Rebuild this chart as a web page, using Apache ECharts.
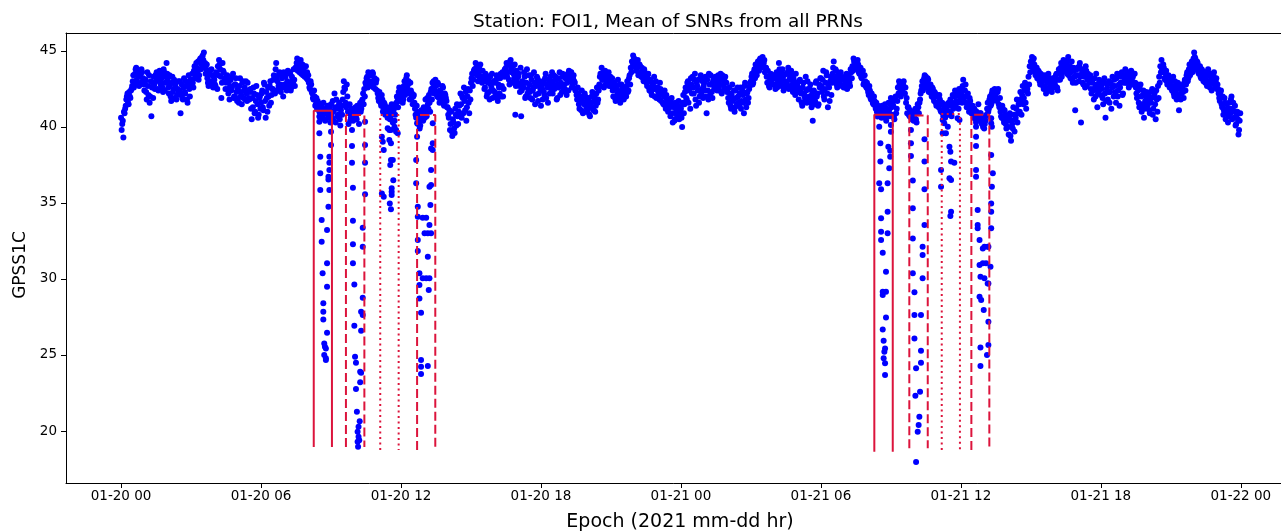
<!DOCTYPE html>
<html><head><meta charset="utf-8">
<script src="https://cdn.jsdelivr.net/npm/echarts@6/dist/echarts.min.js"></script>
<style>html,body{margin:0;padding:0;background:#fff}#c{width:1281px;height:532px}</style>
</head><body><div id="c"></div><script>
// epoch spacing within each block, hours; second phase is offset by half a step
const EPOCH_STEP_H = 0.05;
const PHASE_B_OFFSET_H = 0.025;
// mean SNR, 6-hour blocks, phase A epochs
const snr_00_06 = [
40.6,40.2,39.3,40.9,41.4,42.0,41.6,42.3,41.9,42.5,
43.0,42.6,43.5,43.9,42.8,43.3,43.7,42.9,43.6,43.2,
42.4,43.1,41.8,42.7,43.4,42.0,40.7,42.9,43.3,42.5,
43.0,43.5,42.4,43.7,42.8,43.2,42.3,43.6,42.9,44.2,
43.1,42.2,42.8,41.7,43.3,42.5,41.9,42.9,42.1,43.0,
42.4,40.9,42.8,41.8,43.2,42.2,42.7,41.6,43.4,42.0,
42.8,43.5,42.6,44.0,43.3,43.9,44.3,43.4,44.5,44.1,
44.7,44.9,44.2,43.8,43.2,42.7,43.6,42.9,43.4,42.6,
43.1,42.7,43.5,44.0,44.4,43.8,41.9,44.2,43.6,43.0,
42.9,43.4,42.2,41.8,43.1,42.6,43.5,42.0,42.8,42.3,
42.5,41.6,43.2,42.1,42.9,41.9,42.6,43.0,41.7,42.4,
41.8,42.5,40.5,41.3,42.2,41.0,42.7,41.5,40.8,42.0];
const snr_06_12 = [
41.6,42.4,41.1,42.8,40.6,41.9,42.6,41.4,43.0,42.1,
42.5,43.4,42.2,44.2,43.0,42.7,43.6,42.3,43.2,42.0,
42.8,43.3,42.4,43.7,42.9,43.5,42.6,43.1,43.8,42.7,
43.9,44.5,44.2,43.6,44.4,43.8,43.4,44.0,43.5,43.2,
43.1,42.9,42.5,42.8,42.2,41.8,42.0,41.5,41.2,41.6,
41.0,40.6,41.3,40.8,41.1,40.4,40.9,41.4,40.7,41.2,
41.5,40.6,41.0,42.2,40.3,41.2,40.8,41.6,40.1,41.4,
41.8,43.0,42.5,41.3,42.0,40.2,41.5,40.6,41.1,40.4,
40.8,41.3,40.5,41.0,40.2,41.6,41.2,41.8,41.5,42.0,
42.8,43.3,43.6,42.7,43.4,43.0,43.5,42.9,42.5,43.1,
42.2,41.7,42.0,41.4,41.8,41.2,41.5,40.9,41.3,40.8,
41.0,40.6,41.5,40.3,41.2,40.8,41.6,41.9,42.3,41.7];
const snr_12_18 = [
42.0,42.6,41.8,43.0,42.4,43.4,42.8,42.2,42.9,41.9,
41.5,42.1,41.2,40.6,41.0,40.3,39.9,40.5,40.9,40.4,
41.2,41.8,40.7,41.5,42.1,41.0,42.5,42.9,43.0,42.4,
42.7,42.0,42.8,41.6,42.3,41.8,42.6,41.4,42.1,41.7,
41.3,40.6,39.8,41.0,39.4,40.3,39.6,40.8,41.5,40.2,
41.4,42.2,40.6,41.9,42.6,41.1,40.4,42.0,41.6,42.4,
42.9,43.5,43.1,43.8,44.2,43.4,43.0,43.9,44.1,43.3,
43.7,43.0,42.6,43.4,42.2,43.1,41.8,42.8,43.5,42.4,
42.9,42.1,43.4,41.7,42.6,43.2,42.0,43.6,42.5,43.8,
43.9,43.3,44.1,42.8,44.4,43.6,44.0,43.2,40.8,43.7,
42.9,43.5,42.3,40.7,43.0,42.6,43.3,42.0,43.8,42.5,
42.8,41.9,43.1,42.4,43.6,41.5,42.7,43.2,42.2,43.0];
const snr_18_24 = [
41.4,42.5,43.0,42.1,43.5,42.8,41.6,42.9,43.3,42.4,
42.2,43.4,42.7,43.1,41.9,42.6,43.6,42.9,42.3,43.3,
42.8,43.2,42.1,43.5,43.7,43.0,43.6,42.7,43.4,42.9,
42.5,41.8,42.2,41.2,41.7,42.4,40.9,41.5,42.0,41.3,
41.0,41.9,40.7,41.6,42.3,41.1,42.0,41.4,42.6,41.8,
42.8,43.5,43.9,43.1,42.6,43.7,43.3,42.9,43.6,43.0,
42.7,43.2,42.0,42.9,41.7,42.5,43.1,42.3,41.6,42.8,
42.2,41.8,42.6,42.0,43.0,42.4,43.4,43.9,44.3,44.7,
44.5,44.1,43.8,44.4,43.5,44.0,43.3,43.7,43.0,43.6,
43.2,42.7,43.5,42.4,43.0,42.1,42.8,43.3,42.5,41.9,
42.6,42.0,42.9,41.7,42.3,41.5,42.4,41.2,41.8,41.0,
41.6,40.7,41.9,40.3,41.3,40.5,41.1,40.6,41.7,40.9];
const snr_24_30 = [
41.2,40.0,42.1,41.5,42.6,41.8,43.0,42.4,41.2,42.8,
43.3,42.2,43.5,41.4,42.7,43.1,42.0,43.4,42.5,41.9,
42.9,43.3,40.9,42.4,43.5,42.1,42.8,41.9,43.2,42.6,
43.0,42.4,43.4,42.8,43.5,42.2,43.1,42.6,43.3,42.9,
42.5,41.6,42.2,41.2,42.8,41.8,41.0,42.4,41.5,42.0,
41.4,42.6,41.7,42.1,40.9,42.9,41.3,42.3,41.9,42.7,
43.0,43.5,42.9,43.8,44.1,43.4,44.3,43.7,44.5,44.0,
44.6,44.2,43.6,43.9,42.9,43.3,42.6,43.5,43.1,42.8,
43.4,42.5,43.6,42.9,44.2,43.2,42.7,43.8,42.4,43.0,
43.5,42.8,43.9,43.1,42.6,43.4,42.3,43.0,42.1,42.9,
42.7,41.8,43.1,42.2,41.4,42.9,42.0,43.3,41.6,42.5,
42.0,42.8,41.3,40.4,42.4,41.7,43.0,42.2,41.5,42.6];
const snr_30_36 = [
43.2,42.3,43.7,41.8,42.9,43.4,41.3,42.6,43.0,42.1,
43.5,44.3,43.0,43.7,42.6,43.3,42.9,43.6,42.7,43.2,
43.1,42.6,43.5,42.9,43.3,42.7,43.6,44.0,44.5,44.2,
44.3,43.8,44.1,43.5,43.9,43.2,43.7,42.9,43.0,42.6,
42.5,42.1,42.4,41.8,42.0,41.5,41.7,41.2,41.0,41.4,
40.9,41.3,40.6,41.1,40.8,41.5,40.4,41.0,41.6,40.7,
41.9,40.8,41.4,40.5,42.0,41.2,42.6,43.0,42.3,42.8,
42.5,43.0,42.2,41.6,40.9,41.3,40.7,41.0,40.5,40.8,
40.6,41.2,40.3,41.5,40.9,41.8,42.4,43.0,42.7,43.4,
43.3,42.6,43.1,42.4,42.8,42.0,42.5,41.7,42.2,41.4,
42.0,41.3,41.8,41.0,41.6,40.7,41.2,40.9,41.5,40.8,
41.0,41.8,40.7,42.1,41.4,42.4,41.7,42.3,41.2,42.0];
const snr_36_42 = [
42.5,41.6,43.1,42.0,42.8,41.3,42.2,41.0,41.7,40.9,
41.4,40.6,41.1,40.3,40.8,41.5,40.5,40.9,40.2,40.0,
39.9,40.4,40.8,41.6,41.2,42.0,41.5,42.4,41.8,42.5,
42.2,41.7,42.5,41.3,41.0,40.6,41.2,40.3,40.8,39.9,
40.4,39.5,40.9,39.1,40.2,41.3,39.7,40.6,41.8,40.9,
41.5,42.3,40.8,42.7,41.9,42.9,41.2,42.5,43.3,44.0,
44.3,44.6,43.8,44.1,43.4,43.9,43.3,43.6,42.8,43.2,
43.0,42.5,43.4,42.2,42.9,43.5,42.6,43.1,42.3,42.8,
43.2,42.7,43.5,42.4,43.8,43.1,44.2,43.6,44.4,43.9,
44.1,43.5,44.6,43.8,43.2,44.3,42.9,43.7,41.1,43.4,
43.9,43.0,44.2,40.3,43.6,42.8,43.3,44.0,42.7,43.5,
42.9,43.4,42.2,43.1,41.8,42.6,43.5,41.3,42.4,43.0];
const snr_42_48 = [
42.1,42.8,41.5,43.2,40.6,42.5,41.8,43.0,42.3,41.2,
43.3,42.0,42.7,41.6,43.5,42.4,41.4,42.9,43.6,42.2,
43.4,43.8,42.9,43.6,42.6,43.2,43.7,43.0,42.8,43.5,
42.6,41.9,42.4,41.3,42.8,41.0,42.1,40.6,41.7,42.3,
41.4,42.0,40.9,41.6,42.5,41.2,42.2,40.5,41.8,42.7,
43.3,44.0,44.4,43.6,43.9,43.1,43.7,42.8,43.4,42.6,
43.0,42.4,43.3,42.0,42.7,41.8,42.9,41.1,42.5,42.2,
42.6,41.9,43.1,42.8,43.6,43.2,44.1,43.7,44.3,43.9,
44.9,44.5,43.8,44.2,43.5,44.0,43.2,43.7,43.0,43.6,
43.3,42.7,43.8,42.9,43.5,42.4,43.1,43.6,42.6,43.2,
42.8,42.2,41.7,42.4,41.3,40.8,41.9,40.5,41.5,40.3,
41.6,40.9,42.0,41.2,40.6,41.4,40.2,41.0,39.5,40.4];
// phase B epochs
const snrB_00_06 = [
39.8,40.4,41.0,41.2,41.8,42.2,41.5,42.0,42.4,42.7,
43.4,42.9,43.8,43.1,43.6,42.7,43.4,43.8,43.0,42.8,
42.9,42.3,43.6,42.1,41.6,43.0,42.6,41.9,42.8,43.4,
43.6,42.5,43.2,43.0,43.4,42.6,43.8,42.4,43.3,43.5,
42.6,43.4,42.0,42.9,42.3,43.1,42.7,41.8,42.5,42.3,
43.0,42.1,41.9,42.6,42.3,43.0,41.8,42.8,42.5,43.1,
43.1,42.9,43.7,43.2,44.2,43.6,43.1,44.4,43.8,44.6,
44.4,44.0,43.5,44.1,42.9,43.5,43.0,43.8,42.7,43.3,
42.8,43.6,42.5,43.4,44.1,43.3,42.9,43.7,43.2,42.5,
43.3,42.5,43.0,42.7,42.4,43.3,41.9,42.8,43.2,41.7,
41.9,42.7,42.3,41.5,43.0,42.4,41.8,42.2,42.9,41.9,
42.3,41.2,41.9,42.6,40.9,41.7,42.1,40.6,41.9,41.2];
const snrB_06_12 = [
42.2,41.3,42.9,41.7,42.3,41.0,42.0,42.7,41.6,42.5,
43.1,42.4,43.8,43.3,42.4,43.5,42.8,43.4,42.6,43.6,
43.4,42.6,43.0,42.7,43.6,42.4,43.3,42.9,43.1,43.9,
44.2,43.7,43.9,44.3,43.5,44.1,43.8,43.3,44.0,43.6,
43.4,42.6,43.0,42.3,41.9,42.4,41.4,41.9,41.7,41.3,
41.5,41.2,40.8,41.6,40.5,41.0,41.3,40.6,41.1,40.3,
40.9,41.7,40.4,41.3,41.8,40.7,41.4,40.5,41.1,40.8,
42.3,42.6,41.6,42.8,41.0,40.9,40.4,41.2,40.7,41.0,
41.1,40.6,41.4,40.9,41.3,41.0,41.7,42.2,42.5,42.9,
43.2,42.6,43.0,43.5,42.8,43.6,42.6,43.2,42.9,42.4,
41.9,42.3,41.6,42.1,41.0,41.6,40.8,41.2,40.6,41.0,
40.5,41.2,40.9,41.0,40.4,41.4,42.0,41.3,42.6,42.2];
const snrB_12_18 = [
42.3,41.6,42.7,42.1,43.2,42.5,43.0,41.8,42.4,42.2,
42.0,41.6,40.8,41.4,40.2,40.7,40.1,41.1,40.6,41.3,
40.6,41.0,41.9,41.2,41.6,42.3,41.8,42.6,42.2,43.1,
42.3,42.9,41.9,42.4,42.0,42.7,41.5,42.2,41.9,41.3,
40.8,41.1,40.2,39.7,40.5,39.9,41.2,40.1,40.7,41.0,
40.8,41.5,42.0,40.9,41.7,42.3,41.3,42.5,40.9,41.8,
43.2,42.7,43.7,43.6,43.9,44.0,43.6,43.2,43.7,42.9,
43.2,42.5,43.5,42.0,42.9,42.3,43.3,42.6,41.9,43.0,
42.3,43.1,41.9,42.8,42.2,43.5,42.7,42.0,43.3,43.4,
44.2,43.6,43.1,44.3,43.8,42.9,43.5,44.1,42.7,43.2,
43.3,42.7,43.9,42.4,42.8,43.6,41.9,42.9,42.2,43.4,
42.3,43.4,41.8,42.6,42.9,42.1,43.3,41.7,42.8,42.5];
const snrB_18_24 = [
42.7,41.8,42.3,43.2,41.9,42.6,43.1,42.2,42.7,43.6,
43.0,42.5,43.3,41.8,42.8,43.2,42.1,42.7,43.5,42.4,
42.5,43.4,42.9,42.4,43.3,43.6,42.6,43.2,43.0,42.4,
42.1,42.6,41.5,42.0,41.1,41.9,41.6,42.2,41.0,41.7,
41.5,40.8,41.3,42.0,41.2,41.7,41.0,42.2,41.6,42.4,
43.3,42.7,43.1,43.6,43.4,42.8,43.0,43.5,42.7,43.3,
43.0,42.4,42.6,41.9,42.7,42.2,41.9,42.8,42.1,42.5,
41.9,42.4,42.1,42.7,42.3,43.2,42.8,43.6,44.0,44.4,
44.2,43.7,44.3,43.4,44.1,43.6,43.9,43.2,43.8,43.3,
42.9,43.4,42.6,43.1,42.3,42.9,42.5,42.0,43.0,42.6,
42.3,41.8,42.5,42.2,41.6,42.0,41.4,42.1,41.5,41.7,
41.3,41.8,40.9,41.5,40.4,41.6,40.8,41.4,40.5,41.3];
const snrB_24_30 = [
40.6,41.6,40.9,42.3,41.9,42.9,41.6,42.6,43.2,42.2,
42.6,43.1,41.8,42.9,42.4,41.6,43.2,42.2,43.0,42.7,
42.4,42.0,43.1,41.8,42.8,43.4,42.3,43.0,42.5,43.3,
42.7,43.2,42.5,43.1,42.3,43.4,42.8,43.0,42.5,42.3,
41.9,42.6,41.4,42.1,41.7,42.4,41.3,41.9,42.6,41.6,
42.2,41.2,42.4,41.6,42.7,41.8,42.2,41.6,42.5,42.9,
43.3,42.8,43.6,43.2,43.9,43.7,44.0,44.4,43.9,44.3,
44.0,44.4,43.9,43.3,43.7,42.7,43.1,42.9,43.4,43.2,
42.8,43.2,42.6,43.5,43.8,42.9,43.5,43.1,43.4,42.7,
42.9,43.6,42.5,43.3,43.7,42.8,43.2,42.6,43.5,42.4,
42.3,43.0,42.5,41.6,42.6,42.2,41.8,42.4,43.0,41.9,
42.5,41.6,42.2,41.9,41.5,42.9,42.0,41.4,42.8,43.2];
const snrB_30_36 = [
42.7,43.1,42.0,42.5,43.6,42.2,42.8,41.7,43.3,42.9,
43.9,43.2,43.8,42.8,43.4,43.0,42.8,43.3,43.1,42.6,
42.8,43.4,42.5,43.1,42.9,43.8,43.2,43.7,44.3,43.9,
44.0,44.4,43.6,43.8,43.3,43.5,42.8,43.4,42.7,42.9,
42.3,42.7,41.9,42.2,41.6,42.0,41.4,41.6,41.3,40.9,
41.2,40.7,41.4,40.9,41.3,40.6,41.2,40.8,41.1,41.5,
41.3,41.6,40.7,41.8,40.9,41.7,42.2,42.8,42.0,42.5,
42.8,42.2,42.6,41.9,41.3,40.8,41.1,40.6,40.9,40.4,
40.9,40.5,41.0,41.3,41.6,42.2,42.7,42.4,43.2,42.8,
42.9,43.2,42.3,42.7,42.2,42.6,41.9,42.3,41.6,42.1,
41.6,42.1,41.1,41.5,40.9,41.4,40.6,41.3,41.0,41.6,
41.4,40.9,41.6,41.2,42.0,41.5,42.2,41.6,42.5,41.8];
const snrB_36_42 = [
42.2,42.7,41.8,42.4,41.6,42.0,41.5,41.9,41.1,41.3,
40.9,41.2,40.5,41.0,40.6,40.7,40.9,40.4,40.6,40.3,
40.2,40.7,41.2,41.0,41.8,41.4,42.2,41.7,42.4,42.0,
41.8,42.3,41.5,41.9,40.7,41.4,40.5,41.1,40.2,40.6,
40.0,40.7,39.4,40.4,39.9,40.8,40.5,41.2,40.3,41.5,
41.0,41.8,42.1,41.5,42.4,41.6,42.7,42.2,42.8,43.6,
44.0,44.3,44.5,43.6,43.9,43.2,43.7,43.0,43.5,43.4,
42.7,43.2,42.6,43.0,43.3,42.4,42.9,42.5,43.2,42.6,
42.9,43.4,42.6,43.1,43.5,43.9,43.3,44.1,43.7,44.3,
43.7,44.3,43.4,44.0,43.6,43.1,43.9,43.3,42.9,43.8,
43.4,44.0,43.3,43.8,42.9,43.5,42.6,43.7,43.1,43.3,
43.2,42.5,42.9,42.4,43.2,42.0,42.8,42.2,43.1,42.6];
const snrB_42_48 = [
42.5,41.9,43.0,42.2,41.7,42.8,42.3,41.6,42.9,42.6,
42.7,43.1,42.3,43.2,42.0,42.8,42.6,43.3,42.1,42.9,
43.1,42.9,43.5,43.3,43.0,43.6,42.8,43.3,43.5,42.9,
42.2,42.8,41.6,42.5,42.0,41.5,42.4,41.2,42.0,41.5,
41.8,41.1,42.3,41.9,40.8,42.0,41.5,42.4,41.0,41.9,
42.9,43.6,43.8,44.1,43.2,43.5,43.0,43.3,42.9,43.1,
43.2,42.7,42.2,43.0,42.4,42.6,42.1,42.8,41.8,42.6,
42.3,42.9,42.4,43.4,43.0,43.8,43.4,44.0,43.6,44.5,
44.6,44.1,44.3,43.6,43.9,43.3,43.8,43.4,43.3,42.9,
43.6,43.0,43.4,42.6,43.2,42.9,43.4,42.8,43.0,42.5,
42.5,41.9,42.3,41.5,42.0,41.1,41.6,40.9,41.2,40.7,
41.2,41.8,40.5,41.6,41.0,40.1,40.8,40.5,39.8,40.9];
const blockStartHours = [0,6,12,18,24,30,36,42];

// epochs with deep SNR drops: [hour, SNR]
const dipsDay1A = [[8.50,40.68],[8.50,40.35],[8.50,39.58],[9.00,39.69],[9.00,38.81],[8.54,38.04],[8.93,38.04],[8.93,37.65],[8.93,37.17],[8.54,36.95],[8.89,36.73],[8.89,36.55],[8.54,35.85],[8.93,35.85],[8.89,34.75],[8.60,33.88],[8.83,33.22],[8.60,32.45],[8.83,31.03],[8.64,30.37],[8.83,29.49],[8.67,28.40],[8.67,27.85],[8.67,27.34],[8.83,26.47],[8.71,25.76],[8.74,25.54],[8.78,25.43],[8.71,25.00],[8.78,24.78],[8.78,24.67]];
const dipsDay1B = [[9.90,39.80],[9.90,38.75],[9.90,37.65],[10.46,40.35],[10.46,38.81],[10.46,37.65],[9.94,36.00],[10.46,35.57],[9.94,33.83],[10.36,33.37],[9.94,32.28],[10.36,32.12],[9.94,31.03],[10.00,29.64],[10.36,28.77],[10.29,27.85],[10.36,27.63],[10.00,26.93],[10.29,26.60],[10.03,24.89],[10.07,24.49],[10.25,23.90],[10.29,23.83],[10.25,23.20],[10.07,22.76],[10.11,21.27],[10.23,20.65],[10.18,20.28],[10.14,19.95],[10.18,19.62],[10.21,19.40],[10.14,19.30],[10.16,18.96]];
const dipsDay1C = [[11.18,39.36],[11.22,39.03],[11.26,38.48],[11.18,35.63],[11.26,35.41],[11.43,39.91],[11.50,39.80],[11.57,39.80],[11.50,39.14],[11.57,38.92],[11.65,37.82],[11.57,37.82],[11.54,37.50],[11.67,36.50],[11.60,35.96],[11.60,35.74],[11.60,35.52],[11.52,34.97],[11.57,34.58],[11.79,39.80],[11.79,39.69],[11.72,40.02],[11.86,39.58]];
const dipsDay1D = [[12.69,40.24],[12.69,39.36],[12.65,37.82],[12.65,36.29],[12.72,34.75],[12.72,34.10],[12.93,34.03],[13.08,34.03],[13.22,33.55],[13.01,33.00],[13.15,33.00],[13.29,33.00],[12.72,32.56],[12.72,31.84],[13.15,31.47],[12.79,30.37],[12.93,30.04],[13.08,30.04],[13.22,30.04],[12.79,29.60],[13.19,29.27],[12.79,28.72],[12.86,27.78],[12.86,24.67],[12.86,24.23],[13.15,24.27],[12.86,23.75],[13.36,40.24],[13.36,38.92],[13.29,38.59],[13.36,38.48],[13.29,37.17],[13.29,36.18],[13.22,36.07],[13.26,34.86]];
const dipsDay2A = [[32.43,40.68],[32.50,40.02],[32.55,38.92],[32.55,37.72],[32.89,38.70],[32.97,38.44],[32.97,38.04],[32.93,37.28],[32.50,36.29],[32.58,35.90],[32.86,36.29],[32.86,34.43],[32.58,33.99],[32.58,33.11],[32.86,33.00],[32.58,32.56],[32.65,31.73],[32.79,30.48],[32.65,29.16],[32.79,29.16],[32.65,28.94],[32.79,27.47],[32.65,26.68],[32.69,25.94],[32.75,25.43],[32.72,25.22],[32.69,24.78],[32.75,24.45],[32.75,23.68],[33.00,39.69],[33.00,40.13]];
const dipsDay2B = [[33.86,39.80],[33.86,38.92],[33.86,38.09],[34.44,39.19],[34.44,37.72],[33.94,36.47],[33.94,34.65],[34.44,35.90],[34.44,33.55],[33.94,32.67],[34.36,32.12],[34.36,31.58],[34.36,30.04],[33.94,30.37],[34.01,29.12],[34.01,27.63],[34.29,27.63],[34.01,26.09],[34.29,25.28],[34.08,24.12],[34.29,24.49],[34.05,22.32],[34.25,22.58],[34.22,20.94],[34.19,20.39],[34.15,19.95],[34.08,17.96]];
const dipsDay2C = [[35.22,40.46],[35.29,40.24],[35.22,39.58],[35.44,40.02],[35.36,39.58],[35.15,37.17],[35.15,36.07],[35.51,38.70],[35.55,38.37],[35.58,37.72],[35.72,37.65],[35.51,36.62],[35.58,36.51],[35.58,34.43],[35.55,34.14],[35.86,40.57],[35.94,40.46]];
const dipsDay2D = [[36.65,40.02],[36.65,39.36],[36.65,38.75],[36.65,37.17],[36.65,36.73],[36.72,34.54],[36.72,33.55],[36.72,33.33],[36.80,32.56],[37.01,32.12],[37.15,32.12],[36.94,32.01],[36.80,30.92],[36.94,31.03],[37.08,31.03],[36.84,30.15],[37.01,30.04],[37.15,29.71],[36.80,28.83],[36.87,28.61],[36.98,27.96],[37.30,38.15],[37.33,36.07],[37.30,34.97],[37.30,34.43],[37.30,33.33],[37.18,32.12],[37.18,29.71],[37.18,27.19],[37.18,25.65],[37.12,25.00],[36.84,25.50],[36.84,24.27],[37.30,40.57],[37.30,40.24],[37.33,40.02],[37.37,36.95],[37.27,30.81]];

// highlighted windows (hours / SNR)
const boxStart = [8.26, 9.64, 11.11, 12.69, 32.29, 33.79, 35.18, 36.45];
const boxEnd   = [9.04, 10.43, 11.90, 13.47, 33.08, 34.58, 35.96, 37.22];
const boxTop   = [41.07, 40.79, 40.79, 40.79, 40.81, 40.75, 40.85, 40.80];
const boxBottom= [18.95, 18.95, 18.75, 18.75, 18.64, 18.86, 18.75, 18.75];

const xTickHours = [0,6,12,18,24,30,36,42,48];
const yTickValues = [20,25,30,35,40,45];

// ---- styles ----
const boxLineTypes = ['solid',[9,4],[2,3.5],[9,4],'solid',[9,4],[2,3.5],[9,4]];
const RED = '#DC143C';
const BLUE = '#0000ff';
const FONT = 'DejaVu Sans';
const X_MIN = -2.36, X_MAX = 50.28, Y_MIN = 16.58, Y_MAX = 46.18;

const blocksA = [snr_00_06,snr_06_12,snr_12_18,snr_18_24,snr_24_30,snr_30_36,snr_36_42,snr_42_48];
const blocksB = [snrB_00_06,snrB_06_12,snrB_12_18,snrB_18_24,snrB_24_30,snrB_30_36,snrB_36_42,snrB_42_48];
const band = [];
blocksA.forEach((arr, b) => arr.forEach((v, i) => band.push([blockStartHours[b] + i*EPOCH_STEP_H, v])));
blocksB.forEach((arr, b) => arr.forEach((v, i) => band.push([blockStartHours[b] + i*EPOCH_STEP_H + PHASE_B_OFFSET_H, v])));
const dips = [].concat(dipsDay1A,dipsDay1B,dipsDay1C,dipsDay1D,dipsDay2A,dipsDay2B,dipsDay2C,dipsDay2D);

function fmtHour(v){
  const d = 20 + Math.floor(v/24);
  const h = Math.round(v - Math.floor(v/24)*24);
  return '01-' + d + ' ' + String(h).padStart(2,'0');
}

const boxSeries = boxStart.map((x1, i) => ({
  type:'line', silent:true, z:4, symbol:'none', animation:false,
  data:[[x1,boxBottom[i]],[x1,boxTop[i]],[boxEnd[i],boxTop[i]],[boxEnd[i],boxBottom[i]]],
  lineStyle:{color:RED, width:2, type:boxLineTypes[i], cap:'butt'}
}));

const chart = echarts.init(document.getElementById('c'), null, {renderer:'canvas'});
chart.setOption({
  animation:false,
  backgroundColor:'#fff',
  title:{text:'Station: FOI1, Mean of SNRs from all PRNs', left:468, top:8,
    textStyle:{fontFamily:FONT, fontSize:18.5, fontWeight:'normal', color:'#000'}},
  grid:{left:66, right:-13, top:33, bottom:49, outerBoundsMode:'none', containLabel:false},
  graphic:[{type:'text', x:21, y:265, rotation:Math.PI/2,
    style:{text:'GPSS1C', fontFamily:FONT, fontSize:17, fill:'#000', align:'center', verticalAlign:'middle'}}],
  xAxis:[{type:'value', min:X_MIN, max:X_MAX,
    name:'Epoch (2021 mm-dd hr)', nameLocation:'middle', nameGap:30,
    nameTextStyle:{fontFamily:FONT, fontSize:19, color:'#000'},
    axisLine:{show:true, onZero:false, lineStyle:{color:'#000', width:1}},
    axisTick:{show:true, inside:false, length:5, customValues:xTickHours, lineStyle:{color:'#000'}},
    axisLabel:{customValues:xTickHours, formatter:fmtHour, fontFamily:FONT, fontSize:13.5, color:'#000', margin:6},
    splitLine:{show:false}},
   {type:'value', position:'top', min:X_MIN, max:X_MAX,
    axisLine:{show:true, onZero:false, lineStyle:{color:'#000', width:1}},
    axisTick:{show:false}, axisLabel:{show:false}, splitLine:{show:false}}],
  yAxis:{type:'value', min:Y_MIN, max:Y_MAX,
    axisLine:{show:true, onZero:false, lineStyle:{color:'#000', width:1}},
    axisTick:{show:true, inside:false, length:5, customValues:yTickValues, lineStyle:{color:'#000'}},
    axisLabel:{customValues:yTickValues, fontFamily:FONT, fontSize:13.5, color:'#000', margin:9},
    splitLine:{show:false}},
  series:[
    {type:'scatter', z:2, data:band, symbolSize:6, itemStyle:{color:BLUE, opacity:1}, silent:true},
    {type:'scatter', z:2, data:dips, symbolSize:6, itemStyle:{color:BLUE, opacity:1}, silent:true},
    ...boxSeries
  ]
});
</script></body></html>
